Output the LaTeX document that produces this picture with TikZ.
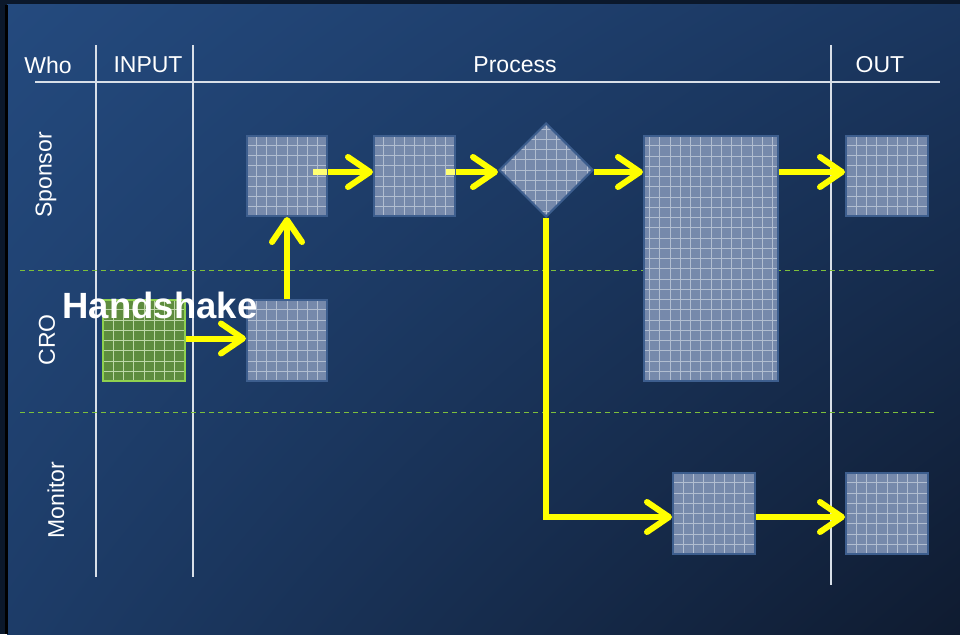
\documentclass[tikz,border=0pt]{standalone}
\usepackage{fontspec}
\setmainfont{Liberation Sans}
\usetikzlibrary{shapes.geometric,arrows.meta,shadings}
\definecolor{slidetop}{HTML}{0B182B}
\definecolor{bgUL}{HTML}{244A7E}
\definecolor{bgUR}{HTML}{1A365F}
\definecolor{bgLL}{HTML}{1D3C68}
\definecolor{bgLR}{HTML}{0F1B30}
\definecolor{boxfill}{HTML}{7689AB}
\definecolor{boxedge}{HTML}{3D5E8E}
\definecolor{handfill}{HTML}{5E8C3E}
\definecolor{handedge}{HTML}{8FD14F}
\definecolor{lanedash}{HTML}{7DBF3C}
\definecolor{flowyel}{HTML}{FFFF00}
\pgfdeclarelayer{bg}
\pgfdeclarelayer{flows}
\pgfsetlayers{bg,flows,main}

\begin{document}
\begin{tikzpicture}[x=1pt,y=-1pt,
  hdr/.style={text=white,font=\fontsize{23}{27}\selectfont,inner sep=0pt},
  rule/.style={draw=white!80!boxedge,line width=1.3pt},
  lanesep/.style={draw=lanedash,line width=1pt,dash pattern=on 5pt off 4pt},
  cell/.style n args={4}{draw=#3,fill=#4,line width=2pt,inner sep=0pt,
     minimum width=#1,minimum height=#2,
     path picture={\draw[#3!30!white,opacity=.75,line width=.8pt]
       (path picture bounding box.south west) grid[step=10.25pt]
       (path picture bounding box.north east);}},
  task/.style 2 args={cell={#1}{#2}{boxedge}{boxfill}},
  flow/.style={draw=flowyel,line width=6pt,
     -{Straight Barb[length=22pt,width=30pt,round]}},
  stub/.style={draw=flowyel!55!white,line width=6pt}]
\useasboundingbox (0,0) rectangle (960,634);
\begin{pgfonlayer}{bg}
\fill[slidetop] (0,0) rectangle (960,634);
\shade[upper left=bgUL,upper right=bgUR,lower left=bgLL,lower right=bgLR]
  (7,5) rectangle (960,634);
\fill[black] (5,5) rectangle (7.5,634);
% table lines
\draw[rule] (35,82) -- (940,82);
\draw[rule] (96,45) -- (96,577);
\draw[rule] (193,45) -- (193,577);
\draw[rule] (831,45) -- (831,585);
\draw[lanesep] (20,270) -- (935,270);
\draw[lanesep] (20,412) -- (935,412);
\end{pgfonlayer}

% headers
\node[hdr] (who) at (48,65) {Who};
\node[hdr] (input) at (148,65) {INPUT};
\node[hdr] (process) at (515,65) {Process};
\node[hdr] (out) at (880,65) {OUT};
\node[hdr,rotate=90] (sponsor) at (46,175) {Sponsor};
\node[hdr,rotate=90] (cro) at (47,340) {CRO};
\node[hdr,rotate=90] (monitor) at (56,500) {Monitor};

% steps
\node[task={80pt}{80pt}] (sA) at (287,176) {};
\node[task={81pt}{80pt}] (sB) at (414.5,176) {};
\node[task={94pt}{94pt},shape=diamond,aspect=1] (dec) at (546,170) {};
\node[task={134pt}{245pt}] (big) at (711,258.5) {};
\node[task={82pt}{80pt}] (out1) at (887,176) {};
\node[task={80pt}{81pt}] (cA) at (287,340.5) {};
\node[cell={82pt}{81pt}{handedge}{handfill}] (hand) at (144,340.5) {};
\node[task={82pt}{81pt}] (mon) at (714,513.5) {};
\node[task={82pt}{81pt}] (out2) at (887,513.5) {};
\node[text=white,font=\fontsize{36.5}{40}\selectfont\bfseries,inner sep=0pt]
  (shake) at (160,305) {Handshake};
\coordinate (row1) at (0,172);
\coordinate (row3) at (0,517);

% pale starts inside the boxes
\draw[stub] ([xshift=-15pt]sA.east |- row1) -- ([xshift=-1pt]sA.east |- row1);
\draw[stub] ([xshift=-10pt]sB.east |- row1) -- ([xshift=-1pt]sB.east |- row1);
\draw[flow] (sA.east |- row1) -- (sB.west |- row1);
\draw[flow] (sB.east |- row1) -- (dec.west |- row1);
\begin{pgfonlayer}{flows}
\draw[flow] (dec.east |- row1) -- (big.west |- row1);
\draw[flow] (big.east |- row1) -- (out1.west |- row1);
\draw[flow] (cA.north) -- (sA.south);
\draw[flow] ([yshift=2pt]hand.east) -- ([yshift=2pt]cA.west);
\draw[flow] (dec.south) |- (mon.west |- row3);
\draw[flow] (mon.east |- row3) -- (out2.west |- row3);
\end{pgfonlayer}
\end{tikzpicture}
\end{document}
